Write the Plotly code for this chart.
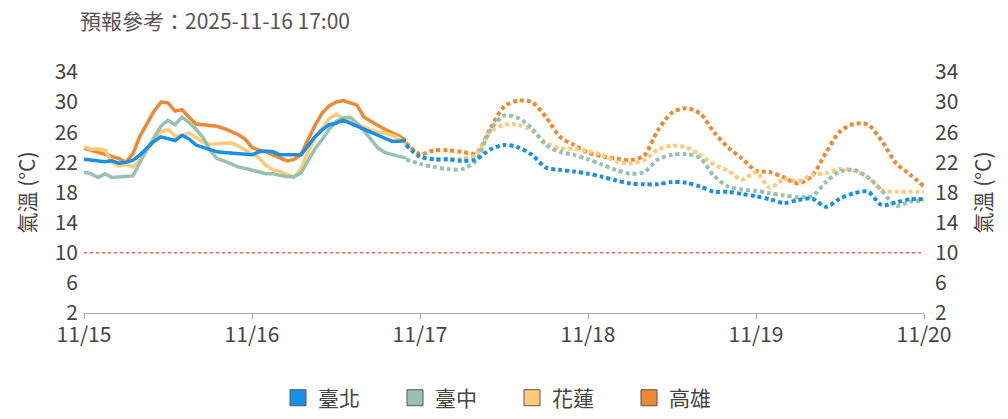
import pandas as pd
import plotly.graph_objects as go

# ---------------- data ----------------
title_text = "預報參考：2025-11-16 17:00"
stations = ["臺北", "臺中", "花蓮", "高雄"]
colors = ["#1A8FE6", "#97C1B0", "#FFCB78", "#EE8834"]
threshold = 10
y_ticks = [2, 6, 10, 14, 18, 22, 26, 30, 34]
x_tick_days = ["2025-11-15", "2025-11-16", "2025-11-17", "2025-11-18", "2025-11-19", "2025-11-20"]
x_tick_labels = ["11/15", "11/16", "11/17", "11/18", "11/19", "11/20"]

obs_time = pd.date_range("2025-11-15 00:00", periods=47, freq="h")
fc_time = pd.date_range("2025-11-16 22:00", "2025-11-20 00:00", freq="2h")

obs_taipei = [22.4, 22.3, 22.1, 22.1, 22.2, 21.9, 22.0, 22.3, 23.0, 23.9, 24.8, 25.4, 25.2, 24.9, 25.6, 25.1,
              24.3, 24.0, 23.8, 23.4, 23.3, 23.2, 23.2, 23.1, 23.0, 23.4, 23.5, 23.4, 23.0, 23.0, 23.0, 23.0,
              24.2, 25.4, 26.3, 27.0, 27.2, 27.6, 27.2, 26.8, 26.3, 25.9, 25.5, 25.1, 24.8, 24.8, 24.9]
obs_taichung = [20.7, 20.5, 20.0, 20.5, 20.0, 20.1, 20.1, 20.2, 22.0, 23.8, 25.3, 26.8, 27.6, 27.0, 28.0, 27.3,
                26.4, 25.3, 23.6, 22.5, 22.2, 21.8, 21.4, 21.2, 21.0, 20.7, 20.5, 20.5, 20.3, 20.1, 20.1, 20.6,
                22.2, 23.8, 25.0, 26.4, 27.4, 27.9, 28.0, 27.2, 26.2, 25.0, 23.9, 23.3, 23.0, 22.8, 22.6]
obs_hualien = [24.1, 23.7, 23.8, 23.6, 22.0, 21.5, 21.7, 21.4, 22.3, 23.6, 24.8, 26.1, 26.4, 25.5, 25.5, 25.9,
               25.3, 24.7, 24.4, 24.5, 24.6, 24.6, 24.2, 23.6, 23.1, 22.6, 21.6, 21.0, 20.8, 20.4, 20.0, 21.2,
               23.4, 25.2, 26.6, 27.8, 28.4, 27.8, 27.4, 27.0, 26.6, 26.3, 26.0, 25.9, 25.6, 25.2, 24.5]
obs_kaohsiung = [23.9, 23.6, 23.3, 23.0, 22.7, 22.5, 22.0, 23.2, 25.5, 27.2, 28.8, 30.0, 29.9, 28.8, 29.0, 28.0,
                 27.1, 27.0, 26.9, 26.8, 26.5, 26.1, 25.7, 25.1, 24.0, 23.6, 23.4, 23.0, 22.6, 22.2, 22.4, 23.0,
                 25.0, 26.9, 28.5, 29.5, 30.0, 30.2, 29.9, 29.6, 28.0, 27.4, 26.9, 26.4, 26.0, 25.5, 24.9]

fc_taipei = [24.3, 22.8, 22.4, 22.4, 22.2, 22.4, 23.7, 24.3, 24.0, 23.0, 21.3, 21.0, 20.8, 20.5, 20.1, 19.6,
             19.2, 19.1, 19.1, 19.4, 19.3, 18.8, 18.1, 18.1, 17.8, 17.5, 17.1, 16.6, 17.0, 17.2, 16.1, 17.2,
             17.9, 18.1, 16.3, 16.7, 17.1, 17.1]
fc_taichung = [22.4, 21.8, 21.4, 21.1, 21.1, 22.2, 26.2, 28.2, 27.9, 26.5, 24.3, 23.4, 23.0, 22.4, 21.7, 21.0,
               20.5, 20.7, 22.4, 23.0, 23.1, 22.6, 20.2, 18.8, 18.4, 18.2, 17.9, 17.6, 17.4, 17.5, 19.4, 20.8,
               21.0, 20.0, 18.2, 16.2, 16.8, 16.9]
fc_hualien = [24.3, 22.7, 22.4, 22.4, 22.5, 23.0, 26.0, 27.0, 27.0, 26.2, 24.6, 23.9, 23.8, 23.5, 23.0, 22.1,
              21.9, 22.3, 23.7, 24.2, 24.0, 23.0, 21.7, 20.9, 19.7, 20.7, 18.6, 19.8, 19.5, 20.3, 20.6, 21.1,
              20.9, 20.0, 18.3, 18.1, 18.1, 18.1]
fc_kaohsiung = [24.6, 23.1, 23.6, 23.6, 23.4, 23.2, 26.4, 29.4, 30.2, 30.0, 28.0, 25.4, 24.3, 23.3, 22.8, 22.5,
                22.3, 22.9, 26.3, 28.6, 29.2, 28.5, 26.0, 24.0, 22.5, 20.9, 20.7, 20.0, 19.2, 20.2, 23.3, 26.1,
                27.1, 27.0, 24.8, 21.9, 20.4, 18.8]

obs_series = [obs_taipei, obs_taichung, obs_hualien, obs_kaohsiung]
fc_series = [fc_taipei, fc_taichung, fc_hualien, fc_kaohsiung]

FONT = "Noto Sans CJK TC, Noto Sans, sans-serif"

fig = go.Figure()

# draw order: 高雄, 花蓮, 臺中, 臺北 (臺北 on top)
for i in [3, 2, 1, 0]:
    fig.add_trace(go.Scatter(x=fc_time, y=fc_series[i], mode="lines", showlegend=False,
                             line=dict(color=colors[i], width=4, dash="4px,3px", shape="spline", smoothing=0.8),
                             hoverinfo="skip"))
for i in [3, 2, 1, 0]:
    fig.add_trace(go.Scatter(x=obs_time, y=obs_series[i], mode="lines", showlegend=False,
                             line=dict(color=colors[i], width=3.5),
                             hoverinfo="skip"))

# legend entries (square swatches)
for i in range(4):
    fig.add_trace(go.Scatter(x=[None], y=[None], mode="markers", name=stations[i], yaxis="y2",
                             marker=dict(symbol="square", size=16, color=colors[i],
                                         line=dict(color="#555555", width=1))))

fig.add_shape(type="line", xref="paper", x0=0, x1=1, yref="y", y0=threshold, y1=threshold,
              line=dict(color="#FF5C5C", width=1.3, dash="3px,3px"), layer="below")

axis_font = dict(family=FONT, size=21, color="#444444")
title_font = dict(family=FONT, size=21, color="#444444")

fig.update_layout(
    width=1008, height=419,
    margin=dict(l=84, r=84, t=72, b=106, autoexpand=False),
    paper_bgcolor="white", plot_bgcolor="white",
    font=dict(family=FONT, color="#444444"),
    title=dict(text=title_text, x=80 / 1008, xanchor="left", y=1 - 22 / 419, yanchor="middle",
               font=dict(family=FONT, size=21, color="#555555")),
    showlegend=True,
    legend=dict(orientation="h", x=0.5 + 8 / 840, xanchor="center", y=-0.353, yanchor="middle",
                font=dict(family=FONT, size=21, color="#444444"),
                entrywidth=72, entrywidthmode="pixels", itemwidth=30),
    xaxis=dict(type="date", range=[x_tick_days[0], x_tick_days[-1]],
               tickvals=x_tick_days, ticktext=x_tick_labels,
               showgrid=False, zeroline=False, automargin=False,
               showline=True, linecolor="#AAAAAA", linewidth=1,
               ticks="outside", ticklen=5, tickcolor="#AAAAAA",
               ticklabelstandoff=-2, tickfont=axis_font),
    yaxis=dict(range=[2, 34], tickvals=y_ticks, showgrid=False, zeroline=False, automargin=False,
               showline=False, ticks="", tickfont=axis_font, ticklabelstandoff=5,
               title=dict(text="氣溫 (°C)", font=title_font, standoff=13)),
    yaxis2=dict(range=[2, 34], tickvals=y_ticks, overlaying="y", side="right", automargin=False,
                showgrid=False, zeroline=False, showline=False, ticks="", tickfont=axis_font,
                ticklabelstandoff=10,
                title=dict(text="氣溫 (°C)", font=title_font, standoff=18)),
)

fig.write_html("out.html", config={"displayModeBar": False},
               post_script="document.body.style.margin='0';")
